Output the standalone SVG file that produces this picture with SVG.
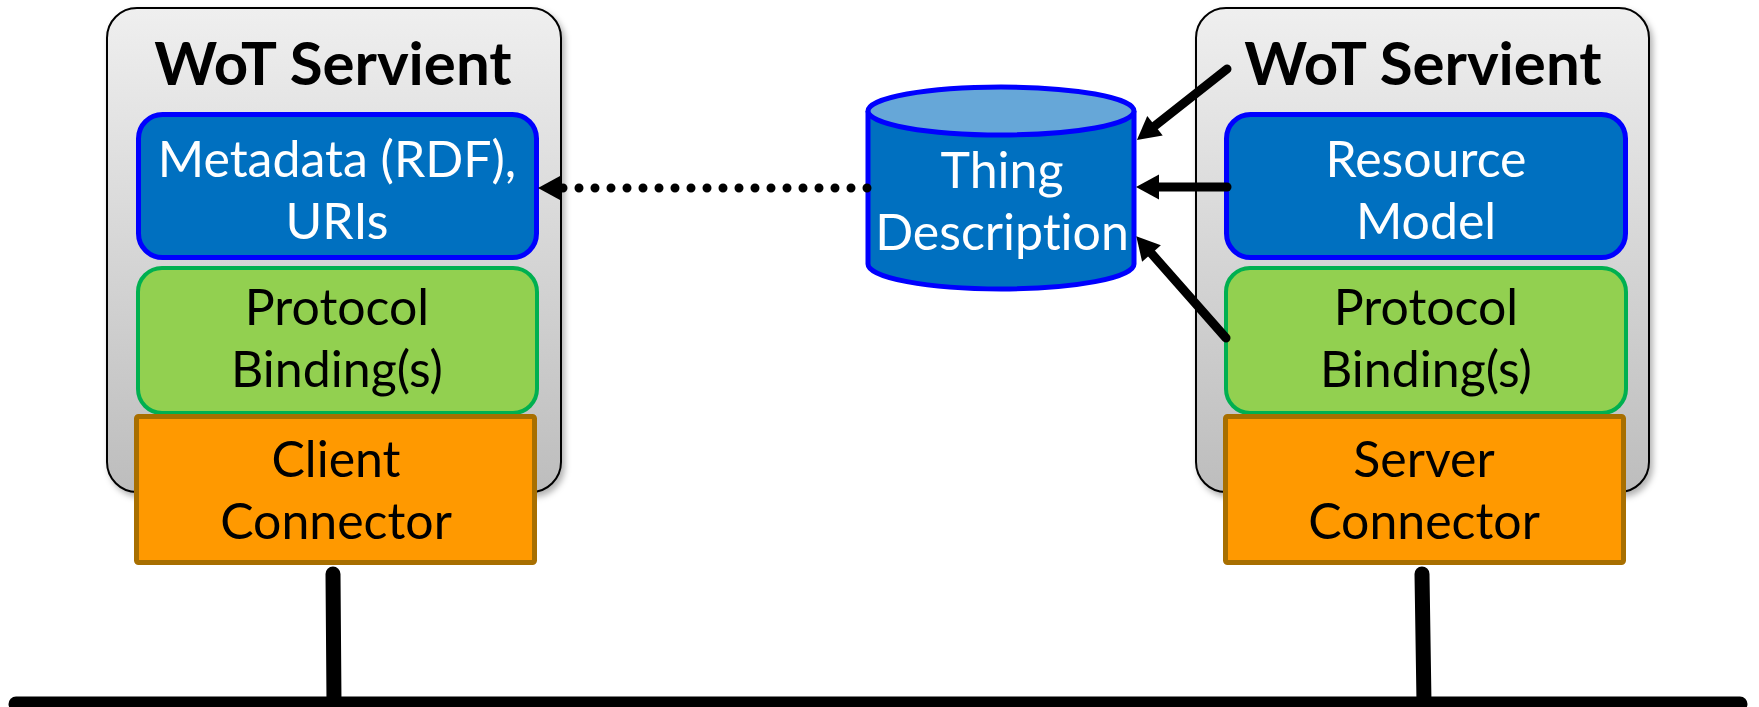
<svg xmlns="http://www.w3.org/2000/svg" width="1759" height="707" viewBox="0 0 1759 707">
<defs>
<linearGradient id="gray" x1="0" y1="0" x2="0" y2="1">
<stop offset="0" stop-color="#EFEFEF"/>
<stop offset="1" stop-color="#BDBDBD"/>
</linearGradient>
<filter id="shadow" x="-10%" y="-10%" width="120%" height="120%">
<feDropShadow dx="3" dy="4" stdDeviation="3" flood-color="#000" flood-opacity="0.3"/>
</filter>
<marker id="arrow" markerUnits="userSpaceOnUse" viewBox="-2 -16 30 32" markerWidth="30" markerHeight="32" refX="0" refY="0" orient="auto">
<path d="M0,-12.5 L23,0 L0,12.5 z" fill="#000"/>
</marker>
<marker id="arrowDot" markerUnits="userSpaceOnUse" viewBox="0 -14 30 28" markerWidth="30" markerHeight="28" refX="0" refY="0" orient="auto">
<path d="M2,-12 L24,0 L2,12 z" fill="#000"/>
</marker>
</defs>
<style>
.servient{fill:url(#gray);stroke:#000;stroke-width:2;filter:url(#shadow)}
.blue{fill:#0070C0;stroke:#0000FF;stroke-width:5}
.green{fill:#92D050;stroke:#00B050;stroke-width:4}
.orange{fill:#FF9900;stroke:#A86F00;stroke-width:5}
text{font-variant-ligatures:none}
.title{font-family:Lato,"Liberation Sans",sans-serif;font-weight:bold;font-size:60px;fill:#000;text-anchor:middle}
.lbl{font-family:Lato,"Liberation Sans",sans-serif;font-size:50px;text-anchor:middle}
.w{fill:#fff}
.k{fill:#000}
.conn{stroke:#000;stroke-width:9;fill:none;stroke-linecap:round}
.dots{stroke:#000;stroke-width:9;fill:none;stroke-linecap:round;stroke-dasharray:0 16}
.wire{stroke:#000;stroke-width:15;fill:none;stroke-linecap:round}
</style>

<g id="servient-left">
<rect class="servient" x="107" y="8" width="454" height="484" rx="30"/>
<text class="title" x="333" y="85">WoT Servient</text>
</g>
<g id="metadata">
<rect class="blue" x="138.5" y="114.5" width="398" height="143" rx="24"/>
<text class="lbl w" x="337" y="177">Metadata (RDF),</text>
<text class="lbl w" x="337" y="239">URIs</text>
</g>
<g id="binding-left">
<rect class="green" x="138" y="268" width="399" height="145" rx="24"/>
<text class="lbl k" x="337" y="325">Protocol</text>
<text class="lbl k" x="337" y="387">Binding(s)</text>
</g>
<g id="client-connector">
<rect class="orange" x="136.5" y="416.5" width="398" height="146" rx="2"/>
<text class="lbl k" x="336" y="477">Client</text>
<text class="lbl k" x="336" y="539">Connector</text>
</g>

<g id="servient-right">
<rect class="servient" x="1196" y="8" width="453" height="484" rx="30"/>
<text class="title" x="1423" y="85">WoT Servient</text>
</g>
<g id="resource-model">
<rect class="blue" x="1226.5" y="114.5" width="399" height="143" rx="24"/>
<text class="lbl w" x="1426" y="177">Resource</text>
<text class="lbl w" x="1426" y="239">Model</text>
</g>
<g id="binding-right">
<rect class="green" x="1226" y="268" width="400" height="145" rx="24"/>
<text class="lbl k" x="1426" y="325">Protocol</text>
<text class="lbl k" x="1426" y="387">Binding(s)</text>
</g>
<g id="server-connector">
<rect class="orange" x="1225.5" y="416.5" width="398" height="146" rx="2"/>
<text class="lbl k" x="1424" y="477">Server</text>
<text class="lbl k" x="1424" y="539">Connector</text>
</g>

<g id="thing-description">
<path d="M868,111 L868,264 A133,25 0 0 0 1134,264 L1134,111" fill="#0070C0" stroke="#0000FF" stroke-width="5"/>
<ellipse cx="1001" cy="111" rx="133" ry="24" fill="#66A7D8" stroke="#0000FF" stroke-width="5"/>
<text class="lbl w" x="1002" y="188">Thing</text>
<text class="lbl w" x="1002" y="250">Description</text>
</g>

<g id="connectors">
<line class="dots" x1="867" y1="188" x2="562" y2="188" marker-end="url(#arrowDot)"/>
<line class="conn" x1="1227" y1="69" x2="1155" y2="125.7" marker-end="url(#arrow)"/>
<line class="conn" x1="1227" y1="187" x2="1159" y2="187" marker-end="url(#arrow)"/>
<line class="conn" x1="1226" y1="338" x2="1151.5" y2="253.5" marker-end="url(#arrow)"/>
<line class="wire" x1="333" y1="574" x2="334" y2="703"/>
<line class="wire" x1="1422" y1="574" x2="1424" y2="703"/>
<line class="wire" x1="16" y1="704" x2="1740" y2="704" stroke-width="16"/>
</g>
</svg>
